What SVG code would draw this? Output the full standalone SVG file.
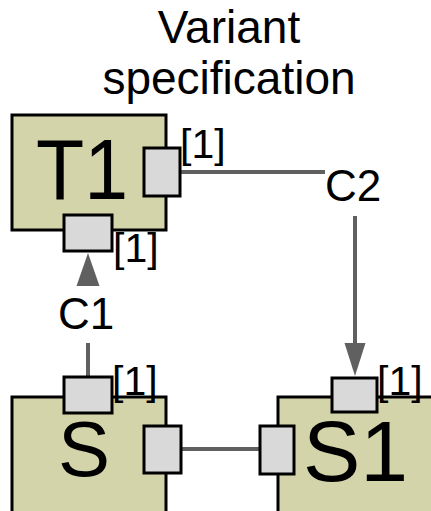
<svg xmlns="http://www.w3.org/2000/svg" width="431" height="511" viewBox="0 0 431 511">
<defs>
<style>
text{font-family:"Liberation Sans",Arial,sans-serif;fill:#000}
.box{fill:#d4d4aa;stroke:#000;stroke-width:3}
.port{fill:#d9d9d9;stroke:#000;stroke-width:3}
.conn{stroke:#606060;stroke-width:4;fill:none}
.head{fill:#606060}
.mult{font-size:41px}
.lbl{font-size:44px}
</style>
</defs>
<rect width="431" height="511" fill="#fff"/>
<g id="title">
<text x="229" y="43" font-size="46" text-anchor="middle">Variant</text>
<text x="229" y="94" font-size="46" text-anchor="middle">specification</text>
</g>
<g id="connectors">
<line class="conn" x1="180" y1="172" x2="325" y2="172"/>
<line class="conn" x1="355" y1="216" x2="355" y2="345"/>
<polygon class="head" points="344.5,343 365.5,343 355,376"/>
<text class="lbl" x="325" y="201">C2</text>
<line class="conn" x1="88" y1="377" x2="88" y2="343"/>
<polygon class="head" points="76.5,286 99.5,286 88,253"/>
<text class="lbl" x="58" y="329">C1</text>
<line class="conn" x1="181" y1="449" x2="260" y2="449"/>
</g>
<g id="T1">
<rect class="box" x="12" y="115" width="154" height="115"/>
<text x="36" y="199" font-size="86" textLength="92" lengthAdjust="spacingAndGlyphs">T1</text>
<rect class="port" x="144" y="148" width="36" height="48"/>
<rect class="port" x="64" y="215" width="48" height="36"/>
<text class="mult" x="180" y="158">[1]</text>
<text class="mult" x="113" y="262">[1]</text>
</g>
<g id="S">
<rect class="box" x="12" y="397" width="154" height="130"/>
<text x="58" y="476" font-size="78">S</text>
<rect class="port" x="64" y="377" width="48" height="36"/>
<rect class="port" x="144" y="426" width="37" height="47"/>
<text class="mult" x="112" y="395">[1]</text>
</g>
<g id="S1">
<rect class="box" x="278" y="397" width="170" height="130"/>
<text x="303" y="481" font-size="86">S1</text>
<rect class="port" x="332" y="378" width="45" height="34"/>
<rect class="port" x="260" y="426" width="34" height="48"/>
<text class="mult" x="377" y="395">[1]</text>
</g>
</svg>
